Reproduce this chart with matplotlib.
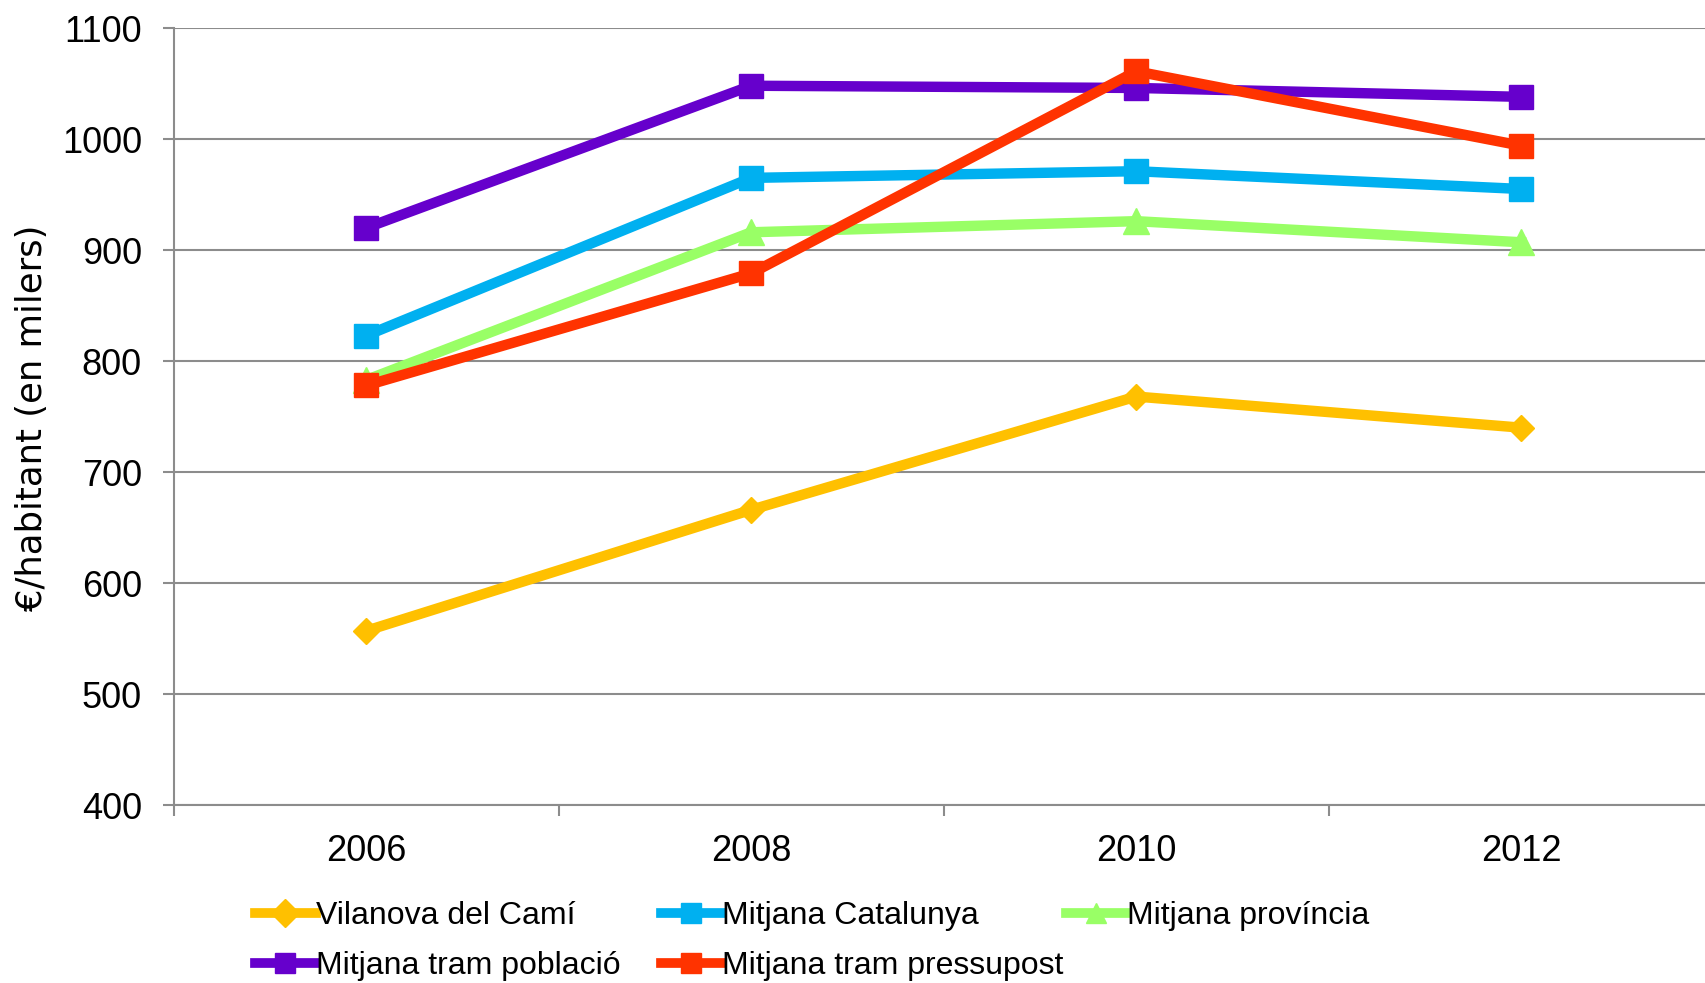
import numpy as np
import matplotlib
matplotlib.use('Agg')
import matplotlib.pyplot as plt
from matplotlib import font_manager

years = ['2006', '2008', '2010', '2012']
vilanova = [557, 666, 768, 740]
catalunya = [823, 965, 971, 955]
provincia = [783, 916, 926, 907]
poblacio = [920, 1048, 1046, 1038]
pressupost = [778, 879, 1061, 994]

names = ['Vilanova del Camí', 'Mitjana Catalunya', 'Mitjana província',
         'Mitjana tram població', 'Mitjana tram pressupost']
colors = ['#FFC000', '#00B0F0', '#99FF66', '#6600CC', '#FF3300']
markers = ['D', 's', '^', 's', 's']
msizes = [13, 17, 19, 17, 17]

# legend font: narrow if available
avail = {f.name for f in font_manager.fontManager.ttflist}
leg_font = 'Liberation Sans Narrow' if 'Liberation Sans Narrow' in avail else 'Liberation Sans'

fig = plt.figure(figsize=(17.05, 9.83), dpi=100)
ax = fig.add_axes([0.102, 0.181, 0.903, 0.7905])

x = np.arange(len(years))
series = [vilanova, catalunya, provincia, poblacio, pressupost]
lines = []
for vals, name, c, m, ms in zip(series, names, colors, markers, msizes):
    l, = ax.plot(x, vals, color=c, lw=7.5, marker=m, ms=ms, mec=c, label=name, zorder=3)
    lines.append(l)

ax.set_xlim(-0.5, 3.5)
ax.set_ylim(400, 1100)
ax.set_yticks(np.arange(400, 1101, 100))
ax.grid(axis='y', color='#8c8c8c', lw=1.5)
ax.set_axisbelow(True)

ax.set_xticks(x)
ax.set_xticklabels(years)
ax.set_xticks(np.arange(-0.5, 3.6, 1), minor=True)
ax.tick_params(axis='x', which='major', length=0, pad=21, labelsize=26)
ax.tick_params(axis='x', which='minor', length=8, width=1.5, color='#8c8c8c')
ax.tick_params(axis='y', length=8, width=1.5, color='#8c8c8c', pad=15, labelsize=26)
for t in ax.get_xticklabels() + ax.get_yticklabels():
    t.set_family('Liberation Sans')

for s in ['top', 'right']:
    ax.spines[s].set_visible(False)
for s in ['left', 'bottom']:
    ax.spines[s].set_color('#8c8c8c')
    ax.spines[s].set_linewidth(1.5)

fig.text(0.019, 0.575, '€/habitant (en milers)', rotation=90, ha='center', va='center', fontsize=25.5)

# legend in three columns placed like the original
cols = [[0, 3], [1, 4], [2]]
col_x = [255, 661, 1066]
for idx, cx in zip(cols, col_x):
    leg = fig.legend([lines[i] for i in idx], [names[i] for i in idx], ncol=1,
                     loc='upper left', bbox_to_anchor=(cx / 1705, 1 - 901 / 983), frameon=False,
                     prop={'family': leg_font, 'size': 23}, handlelength=1.9, handletextpad=0.0,
                     labelspacing=0.62, borderaxespad=0, borderpad=0)
    for h in leg.legend_handles:
        h.set_markersize(14)
        h.set_linewidth(7)

fig.savefig('out.png', dpi=100)
